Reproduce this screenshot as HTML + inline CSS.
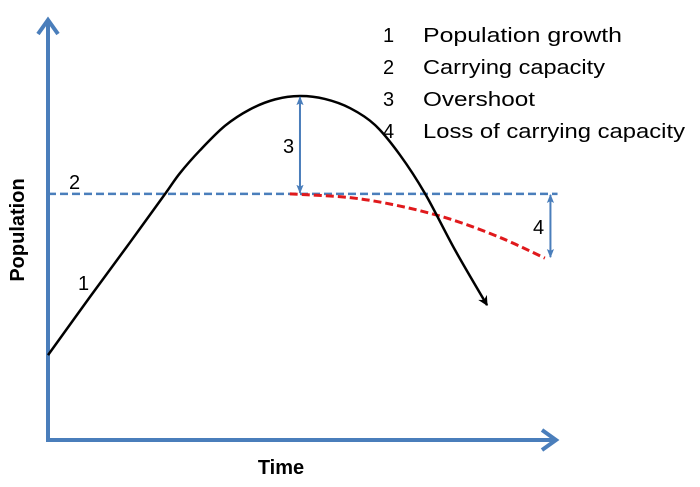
<!DOCTYPE html>
<html><head><meta charset="utf-8"><style>
html,body{margin:0;padding:0;background:#fff;width:700px;height:487px;overflow:hidden}
text{font-family:"Liberation Sans",sans-serif}
</style></head><body>
<svg id="chart" width="700" height="487" viewBox="0 0 700 487" xmlns="http://www.w3.org/2000/svg">
<defs>
<marker id="ah" viewBox="0 0 10 10" refX="9" refY="5" markerWidth="10" markerHeight="10" markerUnits="userSpaceOnUse" orient="auto"><path d="M0,0 L10,5 L0,10 L3,5 z" fill="#000"/></marker>
<marker id="bh" viewBox="0 0 10 10" refX="9" refY="5" markerWidth="9" markerHeight="9" markerUnits="userSpaceOnUse" orient="auto-start-reverse"><path d="M0,1 L10,5 L0,9 L2,5 z" fill="#4a7ebb"/></marker>
</defs>
<g>
<line x1="48" y1="441" x2="48" y2="22" stroke="#4a7ebb" stroke-width="4"/>
<polyline points="38,34 48,20 58,34" fill="none" stroke="#4a7ebb" stroke-width="4"/>
</g>
<g>
<line x1="46" y1="440" x2="554" y2="440" stroke="#4a7ebb" stroke-width="4"/>
<polyline points="542,430 556,440 542,450" fill="none" stroke="#4a7ebb" stroke-width="4"/>
</g>
<text x="0" y="0" transform="translate(24,230) rotate(-90)" text-anchor="middle" font-size="20" font-weight="bold">Population</text>
<text x="281" y="474" text-anchor="middle" font-size="20" font-weight="bold">Time</text>
<g id="marks"></g>
<g font-size="20">
<text x="383" y="42">1</text><text x="423" y="42" textLength="199" lengthAdjust="spacingAndGlyphs">Population growth</text>
<text x="383" y="74">2</text><text x="423" y="74" textLength="182" lengthAdjust="spacingAndGlyphs">Carrying capacity</text>
<text x="383" y="106">3</text><text x="423" y="106" textLength="112" lengthAdjust="spacingAndGlyphs">Overshoot</text>
<text x="383" y="138">4</text><text x="423" y="138" textLength="262" lengthAdjust="spacingAndGlyphs">Loss of carrying capacity</text>
</g>
<text x="78" y="290" font-size="20">1</text>
<text x="69" y="189" font-size="20">2</text>
<text x="283" y="153" font-size="20">3</text>
<text x="533" y="234" font-size="20">4</text>
</svg>
<script>
const popTime = [0, 8.3, 16.2, 23.1, 26.0, 30.0, 34.9, 39.8, 44.8, 49.7, 54.6, 59.6, 64.5, 69.4, 74.4, 80.3, 86.6];
const popValues = [20.2, 34.1, 47.1, 58.6, 63.5, 69.0, 74.8, 78.7, 81.1, 81.9, 81.2, 79.0, 75.0, 67.9, 58.6, 45.2, 32.1];
const capacity = 58.6;
const lossTime = [47.7, 59.6, 69.4, 79.3, 89.2, 98.0];
const lossValues = [58.6, 57.7, 55.7, 52.6, 48.2, 43.3];
const sx = t => 48 + t * 5.07;
const sy = p => 440 - p * 4.2;
const NS = 'http://www.w3.org/2000/svg';
const g = document.getElementById('marks');
function smooth(xs, ys) {
  const P = xs.map((x, i) => [sx(x), sy(ys[i])]);
  let d = 'M' + P[0][0] + ',' + P[0][1];
  for (let i = 0; i < P.length - 1; i++) {
    const p0 = P[i - 1] || P[i], p1 = P[i], p2 = P[i + 1], p3 = P[i + 2] || P[i + 1];
    const c1 = [p1[0] + (p2[0] - p0[0]) / 6, p1[1] + (p2[1] - p0[1]) / 6];
    const c2 = [p2[0] - (p3[0] - p1[0]) / 6, p2[1] - (p3[1] - p1[1]) / 6];
    d += ' C' + c1.join(',') + ' ' + c2.join(',') + ' ' + p2.join(',');
  }
  return d;
}
const cap = document.createElementNS(NS, 'line');


cap.setAttribute('x1', sx(0)); cap.setAttribute('x2', sx(100.5));
cap.setAttribute('y1', sy(capacity)); cap.setAttribute('y2', sy(capacity));
cap.setAttribute('stroke', '#4a7ebb'); cap.setAttribute('stroke-width', '2.5');
cap.setAttribute('stroke-dasharray', '8,4');
g.appendChild(cap);
const loss = document.createElementNS(NS, 'path');


loss.setAttribute('d', smooth(lossTime, lossValues));
loss.setAttribute('fill', 'none'); loss.setAttribute('stroke', '#e0191c');
loss.setAttribute('stroke-width', '3'); loss.setAttribute('stroke-dasharray', '8,4');
g.appendChild(loss);
const pop = document.createElementNS(NS, 'path');


pop.setAttribute('d', smooth(popTime, popValues));
pop.setAttribute('fill', 'none'); pop.setAttribute('stroke', '#000');
pop.setAttribute('stroke-width', '2.5'); pop.setAttribute('marker-end', 'url(#ah)');
g.appendChild(pop);
function arrow(name, t, p1, p2) {
  const a = document.createElementNS(NS, 'line');
  
  
  a.setAttribute('x1', sx(t)); a.setAttribute('x2', sx(t));
  a.setAttribute('y1', sy(p1) + 1); a.setAttribute('y2', sy(p2) - 1);
  a.setAttribute('stroke', '#4a7ebb'); a.setAttribute('stroke-width', '2');
  a.setAttribute('marker-start', 'url(#bh)'); a.setAttribute('marker-end', 'url(#bh)');
  g.appendChild(a);
}
const peak = Math.max(...popValues);
arrow('overshoot-arrow', popTime[popValues.indexOf(peak)], peak, capacity);
arrow('capacity-loss-arrow', 99.1, capacity, lossValues[lossValues.length - 1]);
</script>
</body></html>
